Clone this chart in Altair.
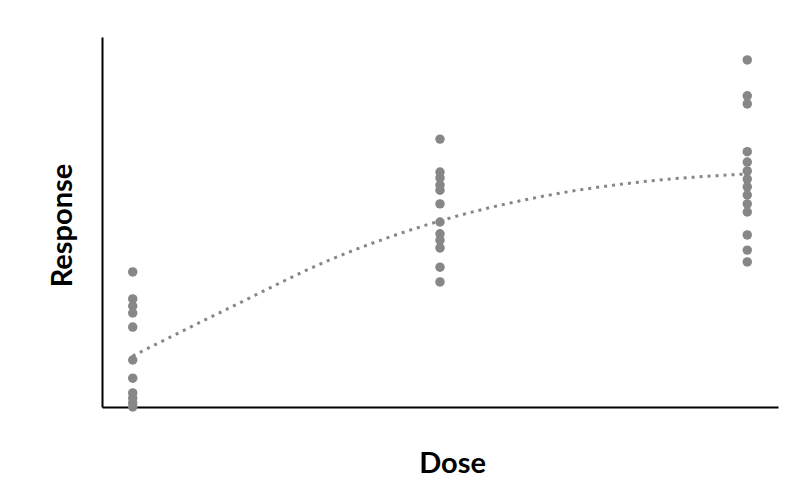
import altair as alt
import pandas as pd

# Dose groups and the responses observed at each (response scale 0-100)
dose_levels = [1, 11, 21]
resp_dose1 = [36.5, 29.2, 27.3, 25.4, 21.6, 12.7, 7.8, 3.8, 2.4, 1.1, 0.0]
resp_dose2 = [72.4, 63.5, 61.9, 60.0, 58.6, 54.9, 50.0, 46.8, 45.1, 43.0, 37.8, 33.8]
resp_dose3 = [93.8, 84.1, 81.9, 69.0, 66.2, 63.8, 61.6, 59.5, 57.3, 54.9, 52.7, 46.5, 42.4, 39.2]

# Fitted dose-response curve
curve_dose = [1.0, 4.2, 7.4, 11.0, 14.25, 17.5, 21.0]
curve_resp = [13.8, 27.0, 39.7, 50.3, 56.8, 60.8, 63.0]

rows = []
for d, vals in zip(dose_levels, [resp_dose1, resp_dose2, resp_dose3]):
    for v in vals:
        rows.append({"Dose": d, "Response": v})
df = pd.DataFrame(rows)
df_curve = pd.DataFrame({"Dose": curve_dose, "Response": curve_resp})

x_scale = alt.Scale(domain=[0, 22], nice=False, zero=True)
y_scale = alt.Scale(domain=[0, 100], nice=False)

title_font = "Lato"
x_axis = alt.Axis(title="Dose", labels=False, ticks=False, grid=False,
                  domainColor="#000000", domainWidth=2,
                  titleFont=title_font, titleFontSize=29, titleFontWeight="bold",
                  titleColor="#000000", titleX=350, titleY=56,
                  titleAlign="center", titleBaseline="middle")
y_axis = alt.Axis(title="Response", labels=False, ticks=False, grid=False,
                  domainColor="#000000", domainWidth=2,
                  titleFont=title_font, titleFontSize=29, titleFontWeight="bold",
                  titleColor="#000000", titleX=-40, titleY=188, titleAngle=-90,
                  titleAlign="center", titleBaseline="middle")

points = alt.Chart(df).mark_circle(size=90, opacity=1, color="#878787").encode(
    x=alt.X("Dose:Q", scale=x_scale, axis=x_axis),
    y=alt.Y("Response:Q", scale=y_scale, axis=y_axis),
)

curve = alt.Chart(df_curve).mark_line(
    color="#878787", strokeWidth=3, strokeDash=[3, 5], interpolate="monotone"
).encode(
    x=alt.X("Dose:Q", scale=x_scale),
    y=alt.Y("Response:Q", scale=y_scale),
)

chart = alt.layer(curve, points).properties(
    width=676, height=370,
    autosize=alt.AutoSizeParams(type="none"),
    padding={"left": 94, "top": 29, "right": 10, "bottom": 76},
    background="#ffffff",
).configure_view(stroke=None)

chart.save("out.html", embed_options={"renderer": "svg", "actions": False})
